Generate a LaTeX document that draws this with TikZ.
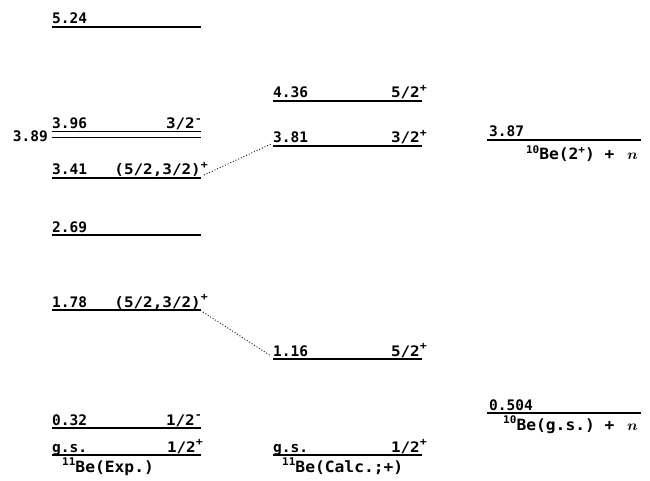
\documentclass[tikz,border=0pt]{standalone}
\usepackage{bm}
\usepackage{fontspec}
\setmonofont{DejaVu Sans Mono}
\usetikzlibrary{calc}
\newcommand{\lblfont}{\ttfamily\bfseries\fontsize{14.5}{16}\selectfont}
\newcommand{\namefont}{\ttfamily\bfseries\fontsize{15.5}{18}\selectfont}
% superscripts a little larger than the default ones
\newcommand{\spp}[1]{\raisebox{0.42em}{\fontsize{10.5}{11}\selectfont #1}}
\tikzset{
  lvl/.style={line width=1.1pt},
  txt/.style={inner sep=0pt, font=\lblfont},
  numlab/.style={txt, anchor=base west},
  jplab/.style={txt, anchor=base east, xscale=1.1},
  namelab/.style={inner sep=0pt, font=\namefont, xscale=1.05},
  link/.style={dotted, line width=0.9pt}
}
\begin{document}
\begin{tikzpicture}[x=1pt,y=-1pt]
\useasboundingbox (0,0) rectangle (650,481);
% ---------- 11Be experimental levels ----------
\foreach \n/\y in {e524/27,e396/131,e389/137,e341/178,e269/235,e178/310,e032/428,egs/455}{
  \coordinate (\n L) at (52,\y);
  \coordinate (\n R) at (201,\y);
}
\foreach \n in {e524,e341,e269,e178,e032,egs}{\draw[lvl] (\n L) -- (\n R);}
\draw[line width=0.8pt] (e396L) -- (e396R);
\draw[line width=0.8pt] (e389L) -- (e389R);
\node[numlab] (t524) at ($(e524L)+(0,-3)$) {5.24};
\node[numlab] (t396) at ($(e396L)+(0,-2.5)$) {3.96};
\node[jplab] (j396) at ($(e396R)+(1,-2.5)$) {3/2\spp{-}};
\node[txt, anchor=base east] (t389) at ($(e389L)+(-4,5)$) {3.89};
\node[numlab] (t341) at ($(e341L)+(0,-3)$) {3.41};
\node[jplab] (j341) at ($(e341R)+(7,-3)$) {(5/2,3/2)\spp{+}};
\node[numlab] (t269) at ($(e269L)+(0,-3)$) {2.69};
\node[numlab] (t178) at ($(e178L)+(0,-3)$) {1.78};
\node[jplab] (j178) at ($(e178R)+(7,-3)$) {(5/2,3/2)\spp{+}};
\node[numlab] (t032) at ($(e032L)+(0,-3)$) {0.32};
\node[jplab] (j032) at ($(e032R)+(1,-3)$) {1/2\spp{-}};
\node[numlab] (tegs) at ($(egsL)+(0,-3)$) {g.s.};
\node[jplab] (jegs) at ($(egsR)+(2,-3)$) {1/2\spp{+}};
\node[namelab, anchor=base west] (nexp) at (62,472) {\spp{11}Be(Exp.)};
% ---------- 11Be calculated levels ----------
\foreach \n/\y in {c436/101,c381/146,c116/359,cgs/455}{
  \coordinate (\n L) at (273,\y);
  \coordinate (\n R) at (422,\y);
  \draw[lvl] (\n L) -- (\n R);
}
\node[numlab] (t436) at ($(c436L)+(0,-3)$) {4.36};
\node[jplab] (j436) at ($(c436R)+(5,-3)$) {5/2\spp{+}};
\node[numlab] (t381) at ($(c381L)+(0,-3)$) {3.81};
\node[jplab] (j381) at ($(c381R)+(5,-3)$) {3/2\spp{+}};
\node[numlab] (t116) at ($(c116L)+(0,-3)$) {1.16};
\node[jplab] (j116) at ($(c116R)+(5,-3)$) {5/2\spp{+}};
\node[numlab] (tcgs) at ($(cgsL)+(0,-3)$) {g.s.};
\node[jplab] (jcgs) at ($(cgsR)+(5,-3)$) {1/2\spp{+}};
\node[namelab, anchor=base west] (ncalc) at (282,472) {\spp{11}Be(Calc.;+)};
% ---------- neutron thresholds ----------
\foreach \n/\y in {th387/140,th050/413}{
  \coordinate (\n L) at (487,\y);
  \coordinate (\n R) at (641,\y);
  \draw[lvl] (\n L) -- (\n R);
}
\node[numlab] (t387) at ($(th387L)+(2,-3)$) {3.87};
\node[namelab, anchor=base east] (n387) at ($(th387R)+(-3,20)$) {\spp{10}Be(2\spp{+}) + \,$\bm{n}$};
\node[numlab] (t050) at ($(th050L)+(2,-3)$) {0.504};
\node[namelab, anchor=base east] (n050) at ($(th050R)+(-3,17)$) {\spp{10}Be(g.s.) + \,$\bm{n}$};
% ---------- correspondence links ----------
\draw[link] ($(e341R)+(3,-3)$) -- ($(c381L)+(-2,-2)$);
\draw[link] ($(e178R)+(2,2)$) -- ($(c116L)+(-2,-3)$);
\end{tikzpicture}
\end{document}
